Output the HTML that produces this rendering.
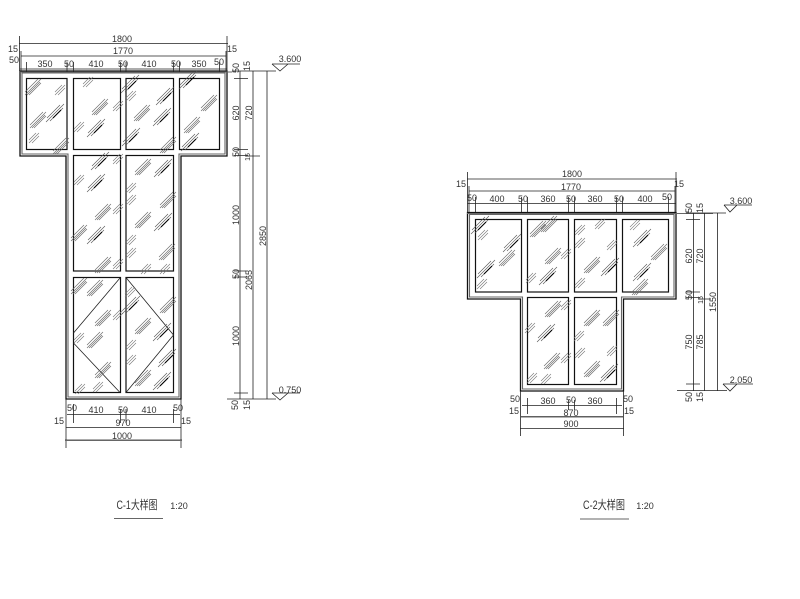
<!DOCTYPE html>
<html><head><meta charset="utf-8"><style>
html,body{margin:0;padding:0;background:#fff}
svg{display:block}
text{font-family:"Liberation Sans Narrow","Liberation Sans","Noto Sans CJK SC",sans-serif;font-size:9px;fill:#333;text-anchor:middle}
.l{stroke:#222;stroke-width:.8;fill:none}
.o{stroke:#111;stroke-width:1.3;fill:none}
.i{stroke:#666;stroke-width:1.1;fill:none}
.p{stroke:#111;stroke-width:1.2;fill:#fff}
.g{stroke:#666;stroke-width:1;fill:none}
</style></head><body>
<svg width="800" height="599" viewBox="0 0 800 599" xmlns="http://www.w3.org/2000/svg">
<defs>
<g id="a" stroke="#666" stroke-width=".6" fill="none"><path d="M-8 8L8-8M-6 8L7-5M-8 5L5-8M-4 8L8-4"/></g>
<g id="b" stroke="#555" stroke-width=".6" fill="none"><path d="M-9 9L9-9M-5 8L8-5M-8 5L5-8"/><path d="M-2 5L6-3" stroke="#000" stroke-width="1.1"/></g>
<g id="c" stroke="#777" stroke-width=".6" fill="none"><path d="M-5 5L5-5M-5 2L2-5M-2 5L5-2"/></g>
</defs>

<!-- C-1 -->
<path class="o" d="M20 71H227V156H181V399H66V156H20Z"/>
<path class="i" d="M22 73H225V154H179V397H68V154H22Z"/>
<path class="g" d="M20 72H232"/>
<g class="p">
<rect x="26.5" y="78.5" width="40.5" height="71"/><rect x="73.5" y="78.5" width="47" height="71"/><rect x="126" y="78.5" width="47.5" height="71"/><rect x="179.5" y="78.5" width="40" height="71"/>
<rect x="73.5" y="155.5" width="47" height="115.5"/><rect x="126" y="155.5" width="47.5" height="115.5"/>
<rect x="73.5" y="277.5" width="47" height="115"/><rect x="126" y="277.5" width="47.5" height="115"/>
</g>
<path class="l" d="M120 278L73.5 333M73.5 343L120 392.5M126 277.5L173.5 335L126 392.5"/>
<g>
<use href="#a" x="33" y="87"/><use href="#c" x="60" y="90"/><use href="#a" x="38" y="120"/><use href="#b" x="55" y="113"/><use href="#c" x="34" y="138"/><use href="#a" x="61" y="146"/>
<use href="#c" x="88" y="82"/><use href="#a" x="100" y="107"/><use href="#c" x="118" y="106"/><use href="#c" x="79" y="127"/><use href="#b" x="96" y="128"/>
<use href="#b" x="130" y="84"/><use href="#c" x="131" y="96"/><use href="#b" x="165" y="96"/><use href="#a" x="142" y="113"/><use href="#b" x="162" y="117"/><use href="#b" x="131" y="137"/><use href="#a" x="168" y="145"/>
<use href="#b" x="188" y="80"/><use href="#a" x="209" y="103"/><use href="#a" x="192" y="125"/><use href="#b" x="190" y="142"/>
<use href="#b" x="100" y="161"/><use href="#c" x="79" y="180"/><use href="#b" x="96" y="183"/><use href="#c" x="118" y="159"/><use href="#a" x="103" y="212"/><use href="#c" x="118" y="209"/><use href="#a" x="79" y="233"/><use href="#b" x="96" y="235"/><use href="#a" x="103" y="265"/><use href="#c" x="118" y="264"/>
<use href="#a" x="143" y="167"/><use href="#b" x="163" y="168"/><use href="#c" x="131" y="188"/><use href="#c" x="131" y="200"/><use href="#a" x="168" y="200"/><use href="#a" x="143" y="220"/><use href="#b" x="163" y="222"/><use href="#c" x="131" y="240"/><use href="#c" x="131" y="253"/><use href="#a" x="167" y="252"/><use href="#c" x="146" y="269"/><use href="#c" x="165" y="269"/>
<use href="#a" x="79" y="286"/><use href="#a" x="95" y="288"/><use href="#a" x="103" y="318"/><use href="#c" x="118" y="315"/><use href="#c" x="79" y="338"/><use href="#a" x="95" y="340"/><use href="#a" x="103" y="370"/><use href="#c" x="80" y="389"/><use href="#c" x="98" y="387"/>
<use href="#c" x="130" y="292"/><use href="#b" x="131" y="305"/><use href="#a" x="168" y="305"/><use href="#a" x="143" y="326"/><use href="#b" x="162" y="332"/><use href="#c" x="131" y="345"/><use href="#c" x="131" y="360"/><use href="#b" x="167" y="358"/><use href="#a" x="143" y="378"/><use href="#b" x="162" y="381"/>
</g>
<!-- C-1 top dims -->
<path class="l" d="M19.5 36V71M227 36V71M19 43.5H228M21 56H226M20 69H227M21 51V71M226 51V71M26.5 62V72M67 62V72M73.5 62V72M120.5 62V72M126 62V72M173.5 62V72M179.5 62V72M219.5 62V72"/>
<text x="122" y="42">1800</text><text x="123" y="54">1770</text>
<text x="13" y="52">15</text><text x="232" y="52">15</text>
<text x="14" y="63">50</text><text x="45" y="67">350</text><text x="69" y="67">50</text><text x="96" y="67">410</text><text x="123" y="67">50</text><text x="149" y="67">410</text><text x="176" y="67">50</text><text x="199" y="67">350</text><text x="219" y="65">50</text>
<!-- C-1 right dims -->
<path class="l" d="M240 71V399M253 71V399M267 71V399M232 71H276M234 78.5H248M234 149.5H248M234 155.5H248M246 156H260M234 271H248M234 277H248M234 393H248M227 399H276M272 64H300M272 64L280 71L288 64"/>
<text transform="translate(239 68) rotate(-90)">50</text><text transform="translate(250 66) rotate(-90)">15</text>
<text transform="translate(239 113) rotate(-90)">620</text><text transform="translate(252 113) rotate(-90)">720</text>
<text transform="translate(239 152) rotate(-90)">50</text><text transform="translate(250 157) rotate(-90)" style="font-size:7px">15</text>
<text transform="translate(239 215) rotate(-90)">1000</text><text transform="translate(266 236) rotate(-90)">2850</text>
<text transform="translate(239 274) rotate(-90)">50</text><text transform="translate(252 280) rotate(-90)">2065</text>
<text transform="translate(239 336) rotate(-90)">1000</text>
<text transform="translate(238 405) rotate(-90)">50</text><text transform="translate(250 405) rotate(-90)">15</text>
<text x="290" y="62">3.600</text><text x="290" y="393">0.750</text>
<path class="l" d="M272 393H300M272 393L280 400L288 393"/>
<!-- C-1 bottom dims -->
<path class="l" d="M66 399V448M181 399V448M67 414.5H180M66 427.5H181M65 440H182M73.5 404V423M120.5 409V423M126 409V423M173.5 409V423"/>
<path class="g" d="M65 440.5H182"/>
<text x="72" y="411">50</text><text x="96" y="413">410</text><text x="123" y="413">50</text><text x="149" y="413">410</text><text x="178" y="411">50</text>
<text x="59" y="424">15</text><text x="186" y="424">15</text><text x="123" y="426">970</text><text x="122" y="439">1000</text>
<text x="137" y="509" style="font-size:12px" textLength="41" lengthAdjust="spacingAndGlyphs">C-1大样图</text>
<text x="179" y="509">1:20</text>
<path class="g" d="M114 518.5H163"/>

<!-- C-2 -->
<path class="o" d="M467.5 212.5H676V299H623.5V391H520.5V299H467.5Z"/>
<path class="i" d="M469.5 214.5H674V297H621.5V389H522.5V297H469.5Z"/>
<path class="g" d="M467 213.5H713"/>
<g class="p">
<rect x="475.5" y="219.5" width="46" height="72.5"/><rect x="527.5" y="219.5" width="41" height="72.5"/><rect x="574.5" y="219.5" width="42" height="72.5"/><rect x="622.5" y="219.5" width="46" height="72.5"/>
<rect x="527.5" y="297.5" width="41" height="87"/><rect x="574.5" y="297.5" width="42" height="87"/>
</g>
<g>
<use href="#b" x="480" y="225"/><use href="#c" x="483" y="235"/><use href="#b" x="512" y="243"/><use href="#a" x="507" y="258"/><use href="#b" x="486" y="269"/><use href="#c" x="482" y="284"/>
<use href="#a" x="538" y="229"/><use href="#a" x="549" y="224"/><use href="#a" x="553" y="256"/><use href="#c" x="566" y="254"/><use href="#b" x="548" y="276"/><use href="#c" x="531" y="278"/>
<use href="#c" x="580" y="230"/><use href="#c" x="580" y="243"/><use href="#c" x="612" y="245"/><use href="#a" x="592" y="265"/><use href="#b" x="610" y="267"/><use href="#c" x="580" y="283"/><use href="#c" x="600" y="224"/>
<use href="#c" x="635" y="225"/><use href="#b" x="642" y="238"/><use href="#a" x="659" y="252"/><use href="#b" x="642" y="272"/><use href="#a" x="640" y="287"/>
<use href="#a" x="553" y="309"/><use href="#c" x="566" y="305"/><use href="#b" x="546" y="333"/><use href="#c" x="530" y="328"/><use href="#a" x="552" y="361"/><use href="#c" x="566" y="358"/><use href="#c" x="532" y="378"/><use href="#c" x="546" y="379"/>
<use href="#a" x="592" y="318"/><use href="#a" x="611" y="318"/><use href="#c" x="579" y="336"/><use href="#c" x="580" y="353"/><use href="#c" x="612" y="351"/><use href="#a" x="592" y="369"/><use href="#b" x="609" y="373"/>
</g>
<path class="l" d="M467.5 172V212M676 172V212M467 179H677M469 191H675M467.5 203.5H676M469 186V212M675 186V212M475.5 197V212M521.5 197V212M527.5 197V212M568.5 197V212M574.5 197V212M616.5 197V212M622.5 197V212M668.5 197V212"/>
<text x="572" y="177">1800</text><text x="571" y="190">1770</text><text x="461" y="187">15</text><text x="679" y="187">15</text>
<text x="472" y="201">50</text><text x="497" y="202">400</text><text x="523" y="202">50</text><text x="548" y="202">360</text><text x="571" y="202">50</text><text x="595" y="202">360</text><text x="619" y="202">50</text><text x="645" y="202">400</text><text x="667" y="200">50</text>
<path class="l" d="M693.5 213V391M704.5 213V391M717.5 213V391M686 213H726M686 219.5H700M686 292H700M686 297.5H700M698 299H711M686 384H700M677 390.5H727M724 205H752M724 205L730 212L737 205M723 384H753M723 384L730 391L737 384"/>
<text transform="translate(692 208) rotate(-90)">50</text><text transform="translate(703 208) rotate(-90)">15</text>
<text transform="translate(692 256) rotate(-90)">620</text><text transform="translate(703 256) rotate(-90)">720</text>
<text transform="translate(692 295) rotate(-90)">50</text><text transform="translate(703 300) rotate(-90)" style="font-size:7px">15</text>
<text transform="translate(716 302) rotate(-90)">1550</text>
<text transform="translate(692 342) rotate(-90)">750</text><text transform="translate(703 342) rotate(-90)">785</text>
<text transform="translate(692 397) rotate(-90)">50</text><text transform="translate(703 397) rotate(-90)">15</text>
<text x="741" y="204">3.600</text><text x="741" y="383">2.050</text>
<path class="l" d="M520.5 391V436M623.5 391V436M522 405.5H622M521 416.5H623M520 428.5H624M527.5 398V414M616.5 398V414M568.5 400V410M574.5 400V410"/>
<path class="g" d="M521 417H623"/>
<text x="515" y="402">50</text><text x="548" y="404">360</text><text x="571" y="403">50</text><text x="595" y="404">360</text><text x="628" y="402">50</text>
<text x="514" y="414">15</text><text x="629" y="414">15</text><text x="571" y="416">870</text><text x="571" y="427">900</text>
<text x="604" y="509" style="font-size:12px" textLength="42" lengthAdjust="spacingAndGlyphs">C-2大样图</text>
<text x="645" y="509">1:20</text>
<path class="g" d="M580 519H629"/>
</svg>
</body></html>
